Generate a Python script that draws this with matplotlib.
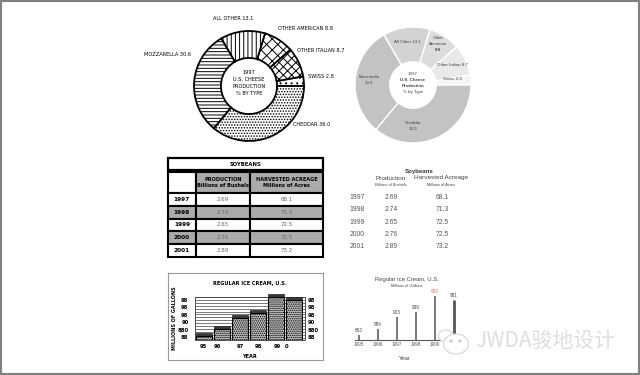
import numpy as np
import matplotlib
matplotlib.use('Agg')
import matplotlib.pyplot as plt
from matplotlib.patches import Rectangle, Ellipse

# data
cheese_caps = ['SWISS', 'OTHER ITALIAN', 'OTHER AMERICAN', 'ALL OTHER', 'MOZZARELLA', 'CHEDDAR']
cheese_names = ['Swiss', 'Other Italian', 'Other American', 'All Other', 'Mozzarella', 'Cheddar']
cheese_share = [2.8, 8.7, 8.8, 13.1, 30.6, 36.0]

soy_years = ['1997', '1998', '1999', '2000', '2001']
soy_production = ['2.69', '2.74', '2.65', '2.76', '2.89']
soy_acreage = ['68.1', '71.3', '72.5', '72.5', '73.2']

ice_years = [1995, 1996, 1997, 1998, 1999, 2000]
ice_gallons = [863, 884, 923, 939, 993, 981]
ice_short = ['95', '96', '97', '98', '99', '0']
junk_labels = ['98', '98', '98', '90', '880', '88']

W, H = 640, 375
NARROW = ['Liberation Sans Narrow', 'DejaVu Sans']
CLEAN = ['Liberation Sans', 'DejaVu Sans']
plt.rcParams['font.family'] = CLEAN
plt.rcParams['hatch.linewidth'] = 0.7

fig = plt.figure(figsize=(6.4, 3.75), dpi=100)


def px_axes(x0, y0, x1, y1, **kw):
    return fig.add_axes([x0 / W, 1 - y1 / H, (x1 - x0) / W, (y1 - y0) / H], **kw)


# overlay for free text, pixel coords
ov = px_axes(0, 0, W, H, zorder=10)
ov.set_xlim(0, W)
ov.set_ylim(H, 0)
ov.axis('off')

# ---- left donut (hatched)
ax = px_axes(249 - 55, 86 - 55, 249 + 55, 86 + 55)
wedges, _ = ax.pie(cheese_share, startangle=0, radius=1,
                   wedgeprops=dict(width=0.49, edgecolor='black', linewidth=1.3, facecolor='white'))
for w, h in zip(wedges, ['...', 'xxxx', 'xxx', '||||', '-----', '......']):
    w.set_hatch(h)
ax.set_xlim(-1, 1)
ax.set_ylim(-1, 1)

lab_kw = dict(fontsize=3.6, family=NARROW, va='center')
pos_left = [(308, 77, 'left'), (297, 51, 'left'), (278, 29, 'left'),
            (233, 19, 'center'), (191, 54, 'right'), (293, 125, 'left')]
for (x, y, ha), name, v in zip(pos_left, cheese_caps, cheese_share):
    ov.text(x, y, f'{name} {v}', ha=ha, **lab_kw)
for i, t in enumerate(['1997', 'U.S. CHEESE', 'PRODUCTION', '% BY TYPE']):
    ov.text(249, 72 + i * 7.3, t, ha='center', **lab_kw)

# ---- right donut (gray)
ax2 = px_axes(413 - 58, 85 - 58, 413 + 58, 85 + 58)
grays = ['#f4f4f4', '#e9e9e9', '#dcdcdc', '#d3d3d3', '#c3c3c3', '#c3c3c3']
ax2.pie(cheese_share, startangle=0, radius=1, colors=grays,
        wedgeprops=dict(width=0.6, edgecolor='white', linewidth=1.0))
ax2.set_xlim(-1, 1)
ax2.set_ylim(-1, 1)

rk = dict(fontsize=3.2, color='#444', ha='center', va='center')
ov.text(452, 79, f'{cheese_names[0]} {cheese_share[0]}', **rk)
ov.text(452, 65, f'{cheese_names[1]} {cheese_share[1]}', **rk)
ov.text(438, 38, 'Other', **rk)
ov.text(438, 44, 'American', **rk)
ov.text(438, 50, f'{cheese_share[2]}', fontweight='bold', **rk)
ov.text(407, 42, f'{cheese_names[3]} {cheese_share[3]}', **rk)
ov.text(369, 77, cheese_names[4], **rk)
ov.text(369, 83, f'{cheese_share[4]}', **rk)
ov.text(413, 123, cheese_names[5], **rk)
ov.text(413, 129, f'{cheese_share[5]}', **rk)
ov.text(413, 74, '1997', **rk)
ov.text(413, 80, 'U.S. Cheese', fontweight='bold', **rk)
ov.text(413, 86, 'Production', fontweight='bold', **rk)
ov.text(413, 91.5, '% by Type', **rk)

# ---- left table (boxed)
axT = px_axes(168, 158, 323, 257)
axT.axis('off')
tt = axT.table(cellText=[['SOYBEANS']], cellLoc='center', bbox=[0, 87 / 99, 1, 12 / 99])
tt.auto_set_font_size(False)
tt.set_fontsize(3.8)
c = tt[(0, 0)]
c.set_linewidth(1.6)
c.get_text().set_fontweight('bold')
c.get_text().set_family(NARROW)

rows = [['', 'PRODUCTION\nBillions of Bushels', 'HARVESTED ACREAGE\nMillions of Acres']]
rows += [[y, p, a] for y, p, a in zip(soy_years, soy_production, soy_acreage)]
tb = axT.table(cellText=rows, cellLoc='center', colWidths=[28 / 155, 54 / 155, 73 / 155],
               bbox=[0, 0, 1, 85 / 99])
tb.auto_set_font_size(False)
tb.set_fontsize(3.6)
for (r, col), cell in tb.get_celld().items():
    cell.set_linewidth(1.5)
    cell.set_height(21 if r == 0 else 12.8)
    txt = cell.get_text()
    txt.set_family(NARROW)
    if r == 0:
        txt.set_fontweight('bold')
        if col > 0:
            cell.set_facecolor('#ababab')
    else:
        if col == 0:
            txt.set_fontweight('bold')
            txt.set_fontsize(4.2)
        else:
            txt.set_color('#666')
            txt.set_fontsize(4.0)
        if r in (2, 4):
            cell.set_facecolor('#ababab')

# ---- right table (clean)
axR = px_axes(345, 191, 472, 253)
axR.axis('off')
band = [['#eeeeee'] * 3 if i % 2 == 0 else ['white'] * 3 for i in range(len(soy_years))]
tr = axR.table(cellText=[[y, p, a] for y, p, a in zip(soy_years, soy_production, soy_acreage)],
               cellColours=band, cellLoc='center',
               colWidths=[25 / 127, 42 / 127, 60 / 127], bbox=[0, 0, 1, 1], edges='open')
tr.auto_set_font_size(False)
tr.set_fontsize(4.9)
for cell in tr.get_celld().values():
    cell.get_text().set_color('#555')
ov.text(419, 171, 'Soybeans', ha='center', va='center', fontsize=4.4, fontweight='bold', color='#333')
ov.text(391, 178, 'Production', ha='center', va='center', fontsize=4.6, color='#444')
ov.text(391, 185.5, 'Billions of Bushels', ha='center', va='center', fontsize=2.8, color='#444')
ov.text(441, 178, 'Harvested Acreage', ha='center', va='center', fontsize=4.6, color='#444')
ov.text(441, 185.5, 'Millions of Acres', ha='center', va='center', fontsize=2.8, color='#444')

# ---- left bar chart (3d junk)
frame = px_axes(168, 273, 323, 360)
frame.set_xticks([])
frame.set_yticks([])
for s in frame.spines.values():
    s.set_color('#999')
    s.set_linewidth(0.8)

base = 846
scale = 0.3  # px per gallon unit
bax = px_axes(195, 290, 303, 340)
bax.set_xlim(-0.5, 5.5)
bax.set_ylim(base, base + 50 / scale)
bax.axis('off')
x = np.arange(len(ice_gallons))
vals = np.array(ice_gallons)
wall_top = base + 43 / scale
bax.add_patch(Rectangle((-0.5, base), 6.1, wall_top - base, facecolor='white',
                        edgecolor='#333', linewidth=0.6, zorder=1, clip_on=False))
for yy in np.linspace(base + 8, wall_top, 15):
    bax.plot([-0.5, 5.6], [yy, yy], color='#444', linewidth=0.5, zorder=1, clip_on=False)
bax.bar(x, 10, bottom=vals - 2, width=0.92, color='#3a3a3a', edgecolor='#222', linewidth=0.5, zorder=2)
bax.bar(x, vals - base - 2, bottom=base, width=0.92, color='#c4c4c4', edgecolor='black',
        hatch='........', linewidth=0.8, zorder=3)
junk_pos = [979, 953, 929, 903, 876, 853]
for p, lab in zip(junk_pos, junk_labels):
    bax.text(-0.06, p, lab, transform=bax.get_yaxis_transform(), ha='right', va='center',
             fontsize=3.8, fontweight='bold', family=NARROW, zorder=4)
    bax.text(1.04, p, lab, transform=bax.get_yaxis_transform(), ha='left', va='center',
             fontsize=3.8, fontweight='bold', family=NARROW, zorder=4)
for xp, lab in zip([-0.06, 0.72, 2.0, 3.0, 4.06, 4.56], ice_short):
    bax.text(xp, -0.12, lab, transform=bax.get_xaxis_transform(), ha='center', va='center',
             fontsize=3.8, fontweight='bold', family=NARROW)
ov.text(250, 284, 'REGULAR ICE CREAM, U.S.', ha='center', va='center', fontsize=3.6,
        fontweight='bold', family=NARROW)
ov.text(249, 356, 'YEAR', ha='center', va='center', fontsize=3.6, fontweight='bold', family=NARROW)
ov.text(175, 318, 'MILLIONS OF GALLONS', ha='center', va='center', rotation=90, fontsize=3.5,
        fontweight='bold', family=NARROW)

# ---- right lollipop chart
lax = px_axes(350, 290, 470, 340)
lax.set_xlim(1995 - 9 / 19, 1995 + 111 / 19)
lax.set_ylim(base, base + 50 / scale)
lax.vlines(ice_years, base, ice_gallons, colors='#555',
           linewidth=[1.1] * (len(ice_years) - 1) + [2.0])
for s in ['top', 'right', 'left']:
    lax.spines[s].set_visible(False)
lax.spines['bottom'].set_bounds(1994.8, 2000.4)
lax.spines['bottom'].set_color('#555')
lax.spines['bottom'].set_linewidth(0.8)
lax.set_yticks([])
lax.set_xticks(ice_years, [str(y) for y in ice_years])
lax.tick_params(axis='x', length=0, pad=1.5, labelsize=3.3, labelcolor='#555')
lax.patch.set_alpha(0)
top = max(ice_gallons)
for yr, v in zip(ice_years, ice_gallons):
    lax.text(yr, v + 6, str(v), ha='center', va='bottom', fontsize=3.3,
             color='#e06666' if v == top else '#444')
ov.text(407, 279, 'Regular Ice Cream, U.S.', ha='center', va='center', fontsize=4.2, color='#444')
ov.text(407, 286, 'Millions of Gallons', ha='center', va='center', fontsize=2.8, color='#444')
ov.text(405, 358, 'Year', ha='center', va='center', fontsize=4.2, color='#444')

# ---- watermark
ov.add_patch(Ellipse((446, 336), 15, 12, facecolor='white', edgecolor='#d5d5d5', linewidth=0.8))
ov.add_patch(Ellipse((456, 344), 25, 20, facecolor='white', edgecolor='#d5d5d5', linewidth=0.8))
for ex in (451, 460):
    ov.add_patch(Ellipse((ex, 341), 1.6, 1.6, color='#c8c8c8'))
ov.text(475, 341, 'JWDA骏地设计', ha='left', va='center', fontsize=15, color='#dedede',
        family=['Noto Sans CJK SC', 'DejaVu Sans'], fontweight='light')

fig.patches.append(Rectangle((0, 0), 1, 1, transform=fig.transFigure, fill=False,
                             edgecolor='#808080', linewidth=3))

fig.savefig('out.png', dpi=100)
